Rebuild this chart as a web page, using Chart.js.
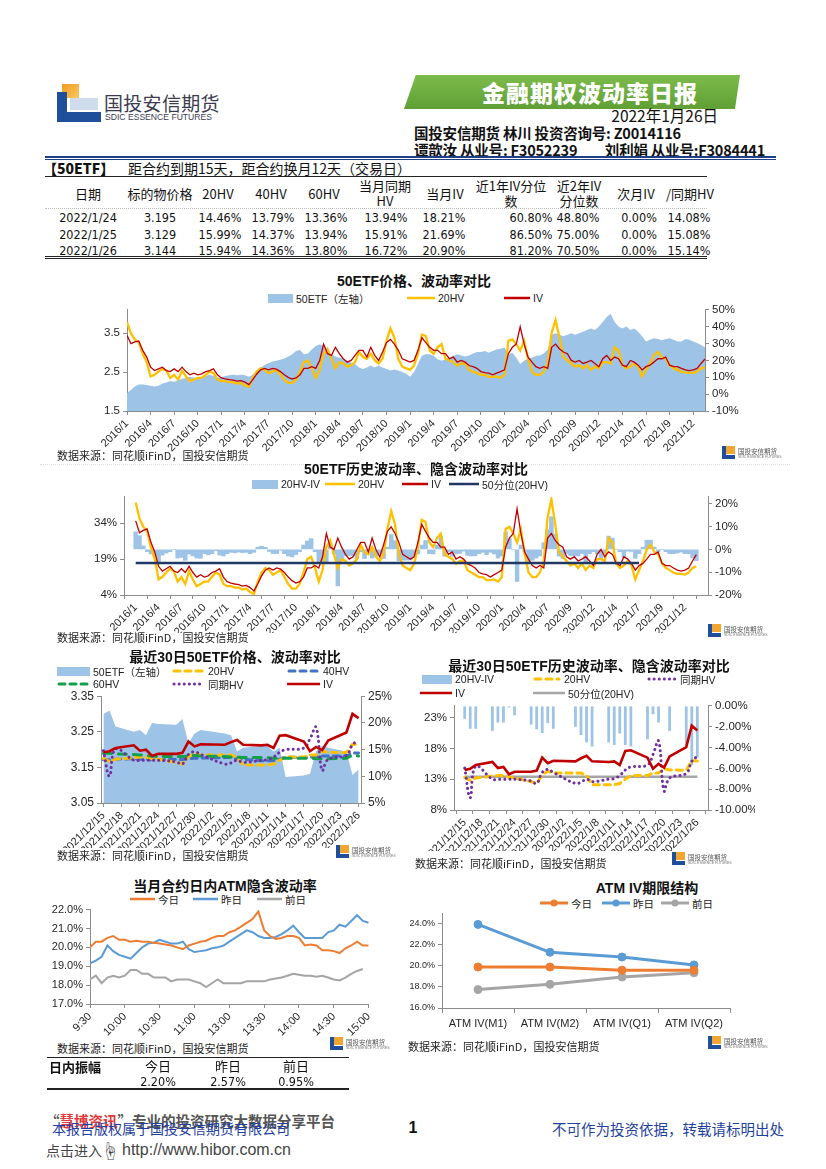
<!DOCTYPE html>
<html lang="zh-CN">
<head>
<meta charset="utf-8">
<title>金融期权波动率日报</title>
<script src="https://cdn.jsdelivr.net/npm/chart.js@4.4.1/dist/chart.umd.min.js"></script>
<style>
  html, body { margin: 0; padding: 0; background: #fff; }
  #page { position: relative; width: 826px; height: 1169px; overflow: hidden;
          font-family: "Liberation Sans", "Noto Sans CJK SC", sans-serif; color: #111; }
  #page > div { position: absolute; white-space: nowrap; }
  canvas { position: absolute; }
  .l { transform: translateY(-50%); }
  .c { transform: translate(-50%, -50%); }
  .r { transform: translate(-100%, -50%); }
  .ttl { transform: translate(-50%, -50%); font-weight: bold; font-size: 14px; }
  .src { transform: translateY(-50%); font-family: "Noto Sans CJK SC", sans-serif; font-size: 11px; color: #222; }
  .lg { transform: translateY(-50%); display: flex; align-items: center; font-size: 10.5px; color: #222; }
  .hd { font-family: "Noto Sans CJK SC", sans-serif; font-size: 13px; line-height: 15px; text-align: center; }
  .cell { font-family: "Liberation Sans Narrow", "DejaVu Sans Condensed", "Liberation Sans", sans-serif; font-size: 12.5px; }
  .hdr { font-family: "Noto Sans CJK SC", sans-serif; font-size: 14.5px; font-weight: bold; letter-spacing: -0.2px; }
</style>
</head>
<body>
<div id="page"></div>
<script>
// ---- 50ETF, samples every 10 trading days from 2016/1/4 to 2022/1/26 ----
const tickLabelsLong = ['2016/1','2016/4','2016/7','2016/10','2017/1','2017/4','2017/7','2017/10',
  '2018/1','2018/4','2018/7','2018/10','2019/1','2019/4','2019/7','2019/10','2020/1','2020/4',
  '2020/7','2020/9','2020/12','2021/4','2021/7','2021/9','2021/12'];
const pointsPerTick = 6;

const etfPrice = [
  1.96, 2.04, 2.13, 2.18, 2.18, 2.17, 2.15, 2.13, 2.15, 2.21, 2.23, 2.27,
  2.25, 2.29, 2.33, 2.35, 2.38, 2.36, 2.35, 2.38, 2.40, 2.43, 2.40, 2.35,
  2.37, 2.40, 2.42, 2.43, 2.42, 2.43, 2.42, 2.38, 2.43, 2.54, 2.62, 2.68,
  2.73, 2.77, 2.79, 2.82, 2.85, 2.90, 2.96, 3.04, 3.07, 2.96, 2.98, 3.08,
  3.17, 3.21, 3.17, 3.00, 2.96, 2.90, 2.87, 2.85, 2.79, 2.75, 2.71, 2.62,
  2.58, 2.62, 2.67, 2.62, 2.67, 2.62, 2.58, 2.54, 2.57, 2.54, 2.50, 2.46,
  2.38, 2.50, 2.71, 2.92, 2.96, 2.96, 2.92, 2.83, 2.79, 2.83, 2.87, 2.92,
  2.96, 2.93, 2.90, 2.93, 2.98, 3.02, 3.02, 3.04, 3.00, 3.04, 3.08, 3.10,
  3.13, 2.96, 3.00, 2.87, 2.71, 2.79, 2.85, 2.87, 2.92, 2.93, 2.98, 3.08,
  3.46, 3.50, 3.46, 3.42, 3.46, 3.50, 3.46, 3.50, 3.54, 3.58, 3.62, 3.58,
  3.67, 3.79, 3.92, 4.00, 3.79, 3.67, 3.62, 3.67, 3.58, 3.62, 3.54, 3.42,
  3.29, 3.33, 3.37, 3.35, 3.32, 3.35, 3.37, 3.33, 3.29, 3.29, 3.35, 3.33,
  3.29, 3.25, 3.20, 3.14
];
const hv20 = [
  42.7, 36, 32.5, 30.6, 24, 19, 10.5, 11.5, 13.4, 15, 14, 9.6,
  11.5, 8.6, 14, 10.5, 7.7, 8.6, 9.6, 9.6, 11.5, 13.4, 12.5, 8.6,
  7.7, 7.7, 7.1, 7.1, 6.3, 6.7, 5.2, 4.4, 9.6, 13.4, 15.3, 14.4,
  12.5, 13.4, 14.4, 11.5, 8.6, 6.7, 6.7, 8.6, 13.4, 19, 20, 15.3,
  9.6, 14.4, 24, 26.8, 21, 15.3, 19, 18.2, 16.3, 17.2, 19, 25,
  22, 21, 24, 20, 18.2, 21, 31.6, 39, 33.5, 21, 16.3, 15.3,
  14.4, 17, 24, 35.4, 34.5, 25.9, 24, 27.8, 29.7, 21, 20, 19,
  17, 18.2, 18.2, 14.4, 13.4, 12.5, 11.5, 11.5, 10.2, 10.2, 10.5, 9.6,
  11.5, 31.6, 32.5, 29.7, 25.9, 31.6, 21, 13.4, 11.5, 11.5, 13.4, 18.2,
  36.4, 44, 33.5, 22, 20, 18.2, 16.3, 17.2, 15.3, 17.2, 14.4, 16.3,
  15.3, 19, 19, 18.2, 27.8, 25.9, 17.2, 15.3, 16.3, 18.2, 16.3, 10.5,
  14.4, 18.2, 23, 25, 22, 21, 17.2, 15.3, 14.4, 13.4, 12.8, 12.8,
  12.5, 13.4, 15.3, 15.94
];
const iv = [
  35, 30, 31, 31.6, 26, 22, 16, 14, 15, 16, 14, 13.4,
  15, 13.4, 16, 13.4, 11.5, 12.5, 11.5, 12, 13.4, 14, 15, 11.5,
  9.6, 9, 8.6, 8.3, 7.7, 8, 7.1, 5.7, 8.6, 12, 14.4, 15.3,
  14.4, 15.3, 14.8, 13.4, 11.5, 10, 9, 9.6, 11.5, 15.3, 15.3, 16.3,
  15.3, 20, 29.7, 24, 23, 27.8, 24, 21, 19, 20, 23, 26,
  26, 22, 27.8, 23, 20, 25, 30.6, 32.5, 29.7, 26, 21, 20,
  19, 20, 26, 33.5, 30.6, 27.8, 26, 26, 24, 24, 21, 22,
  19, 20, 19, 17, 16.3, 15.3, 13.4, 12.8, 12.5, 11.5, 12.5, 13.4,
  14.4, 24, 27.8, 29.7, 40, 29.7, 22, 19, 16.3, 15.3, 16.3, 15.3,
  27.8, 29.7, 26.8, 25, 24, 20, 19, 20, 18.2, 19, 20, 18.2,
  16.3, 21, 23, 20, 22, 21, 17.2, 16.3, 20, 19, 17.2, 14.4,
  16.3, 17.2, 19, 21, 21, 22, 17.2, 16.3, 16.3, 15.3, 14.4, 14,
  14.4, 15.3, 18.21, 20.9
];
const hvIvSpread = [
  7.7, 6, 1.5, -1, -2, -3, -5.5, -2.5, -1.6, -1, 0, -3.8,
  -3.5, -4.8, -2, -2.9, -3.8, -3.9, -1.9, -2.4, -1.9, -0.6, -2.5, -2.9,
  -1.9, -1.3, -1.5, -1.2, -1.4, -1.3, -1.9, -1.3, 1, 1.4, 0.9, -0.9,
  -1.9, -1.9, -0.4, -1.9, -2.9, -3.3, -2.3, -1, 1.9, 3.7, 4.7, -1,
  -5.7, -5.6, -5.7, 2.8, -2, -16, -5, -2.8, -2.7, -2.8, -4, -1,
  -4, -1, -3.8, -3, -1.8, -4, 1, 6.5, 3.8, -5, -4.7, -4.7,
  -4.6, -3, -2, 1.9, 3.9, -1.9, -2, 1.8, 5.7, -3, -1, -3,
  -2, -1.8, -0.8, -2.6, -2.9, -2.8, -1.9, -1.3, -2.3, -1.3, -2, -3.8,
  -2.9, 7.6, 4.7, 0, -14.1, 1.9, -1, -5.6, -4.8, -3.8, -2.9, 2.9,
  8.6, 14.3, 6.7, -3, -4, -1.8, -2.7, -2.8, -2.9, -1.8, -5.6, -1.9,
  -1, -2, -4, -1.8, 5.8, 4.9, 0, -1, -3.7, -0.8, -0.9, -3.9,
  -1.9, 1, 4, 4, 1, -1, 0, -1, -1.9, -1.9, -1.6, -1.2,
  -1.9, -1.9, -3.75, -4.96
];
const hvMedian = 17.4;      // 50分位(20HV)
const hvMedianLast = 132;   // line stops here

// ---- last 30 trading days ----
const dates30 = ['2021/12/15','2021/12/16','2021/12/17','2021/12/20','2021/12/21','2021/12/22','2021/12/23',
  '2021/12/24','2021/12/27','2021/12/28','2021/12/29','2021/12/30','2021/12/31','2022/1/4','2022/1/5',
  '2022/1/6','2022/1/7','2022/1/10','2022/1/11','2022/1/12','2022/1/13','2022/1/14','2022/1/17',
  '2022/1/18','2022/1/19','2022/1/20','2022/1/21','2022/1/24','2022/1/25','2022/1/26'];
const tickDates30 = ['2021/12/15','2021/12/18','2021/12/21','2021/12/24','2021/12/27','2021/12/30',
  '2022/1/2','2022/1/5','2022/1/8','2022/1/11','2022/1/14','2022/1/17','2022/1/20','2022/1/23','2022/1/26'];
const etf30 = [3.300, 3.310, 3.265, 3.250, 3.255, 3.240, 3.275, 3.272, 3.270, 3.286, 3.218, 3.245, 3.255,
  3.245, 3.240, 3.195, 3.205, 3.210, 3.210, 3.195, 3.205, 3.123, 3.127, 3.132, 3.195, 3.210, 3.205,
  3.195, 3.129, 3.144];
const iv30 = [14.5, 14.7, 15.3, 15.8, 14.8, 15.0, 13.8, 14.2, 14.2, 14.4, 16.5, 15.6, 16.0, 15.9, 16.4,
  16.8, 15.9, 15.8, 15.9, 15.3, 17.6, 17.7, 16.5, 14.7, 15.5, 14.9, 16.7, 18.21, 21.69, 20.90];
const hv20_30 = [13.3, 12.8, 13.2, 13.5, 13.6, 13.6, 13.3, 13.2, 12.6, 12.3, 13.7, 14.3, 14.0, 14.0, 14.0,
  13.6, 12.1, 12.1, 12.1, 12.3, 13.0, 13.6, 13.6, 14.0, 14.0, 14.7, 14.5, 14.46, 15.99, 15.94];
const hv40_30 = [13.1, 13.1, 13.2, 13.3, 13.2, 13.2, 13.1, 13.1, 13.2, 13.1, 13.3, 13.4, 13.4, 13.5, 13.5,
  13.3, 13.2, 12.9, 12.9, 12.9, 13.2, 13.6, 13.5, 13.6, 13.6, 13.8, 13.8, 13.79, 14.37, 14.36];
const hv60_30 = [14.3, 14.3, 14.2, 14.1, 14.0, 13.9, 13.8, 13.7, 13.7, 13.7, 13.8, 13.9, 13.8, 13.7, 13.6,
  13.6, 13.5, 13.5, 13.5, 13.4, 13.4, 13.4, 13.4, 13.4, 13.3, 13.3, 13.3, 13.36, 13.94, 13.80];
const sameHv30 = [14.8, 10.0, 15.1, 13.0, 13.0, 13.0, 13.0, 13.0, 12.7, 12.3, 14.1, 14.6, 14.1, 12.3, 12.5,
  13.0, 12.6, 13.0, 13.1, 13.6, 14.5, 15.0, 15.3, 17.0, 19.2, 11.1, 13.2, 13.94, 15.91, 16.72];
const spread30 = [-1.25, -2.2, -2.2, -2.4, -1.6, -1.6, -0.15, -0.9, -1.8, -2.25, -2.6, -1.65, -2.2, -2.0, -2.8,
  -3.5, -3.9, -3.5, -3.75, -2.65, -3.75, -3.9, -3.2, -0.8, -1.6, -0.05, -2.4, -3.75, -5.7, -4.96];
const median30 = 13.4;

// ---- intraday ATM IV, every 5 minutes ----
const intradayTicks = ['9:30','10:00','10:30','11:00','13:00','13:30','14:00','14:30','15:00'];
const atmToday = [20.0, 20.3, 20.3, 20.5, 20.6, 20.4, 20.4, 20.3, 20.35, 20.3, 20.3, 20.25, 20.2, 20.15, 20.1,
  20.0, 19.9, 20.1, 20.2, 20.3, 20.35, 20.5, 20.6, 20.6, 20.8, 20.9, 21.1, 21.3, 21.5, 21.9, 20.9, 20.6,
  20.45, 20.5, 20.6, 20.6, 20.5, 20.1, 20.15, 20.1, 19.85, 19.85, 19.8, 19.7, 19.95, 20.1, 20.3, 20.1, 20.1];
const atmYesterday = [19.15, 19.3, 19.5, 20.1, 19.8, 19.6, 19.5, 19.4, 19.7, 20.0, 20.2, 20.25, 20.4, 20.3, 20.2,
  20.2, 20.3, 19.9, 19.75, 19.8, 19.85, 19.95, 20.0, 20.1, 20.3, 20.5, 20.7, 20.9, 20.8, 20.6, 20.5, 20.5,
  20.55, 20.7, 20.9, 21.15, 20.8, 20.5, 20.5, 20.5, 20.5, 20.8, 20.9, 21.2, 21.1, 21.4, 21.7, 21.4, 21.3];
const atmPrev = [18.3, 18.5, 18.1, 18.4, 18.5, 18.4, 18.5, 18.8, 18.8, 18.6, 18.6, 18.4, 18.4, 18.4, 18.2,
  18.3, 18.3, 18.3, 18.2, 18.1, 17.9, 18.1, 18.3, 18.1, 18.1, 18.1, 18.1, 18.2, 18.2, 18.2, 18.2, 18.3,
  18.35, 18.4, 18.5, 18.6, 18.55, 18.5, 18.5, 18.45, 18.5, 18.4, 18.3, 18.25, 18.4, 18.6, 18.75, 18.85, null];

// ---- ATM IV term structure ----
const termLabels = ['ATM IV(M1)', 'ATM IV(M2)', 'ATM IV(Q1)', 'ATM IV(Q2)'];
const termToday = [19.9, 19.9, 19.6, 19.6];
const termYesterday = [23.95, 21.3, 20.85, 20.1];
const termPrev = [17.75, 18.25, 18.95, 19.35];

// ---- tables ----
const tableHead = [['日期'], ['标的物价格'], ['20HV'], ['40HV'], ['60HV'], ['当月同期', 'HV'], ['当月IV'],
  ['近1年IV分位', '数'], ['近2年IV', '分位数'], ['次月IV'], ['/同期HV']];
const tableRows = [
  ['2022/1/24', '3.195', '14.46%', '13.79%', '13.36%', '13.94%', '18.21%', '60.80%', '48.80%', '0.00%', '14.08%'],
  ['2022/1/25', '3.129', '15.99%', '14.37%', '13.94%', '15.91%', '21.69%', '86.50%', '75.00%', '0.00%', '15.08%'],
  ['2022/1/26', '3.144', '15.94%', '14.36%', '13.80%', '16.72%', '20.90%', '81.20%', '70.50%', '0.00%', '15.14%']
];
const swingHead = ['今日', '昨日', '前日'];
const swingValues = ['2.20%', '2.57%', '0.95%'];

// ================= page helpers =================
const page = document.getElementById('page');
function put(html, x, y, cls, css) {
  const d = document.createElement('div');
  d.className = cls || 'l';
  d.style.left = x + 'px';
  d.style.top = y + 'px';
  if (css) d.style.cssText += css;
  d.innerHTML = html;
  page.appendChild(d);
  return d;
}
function rect(x, y, w, h, css) {
  const d = document.createElement('div');
  d.style.cssText = `left:${x}px;top:${y}px;width:${w}px;height:${h}px;` + (css || '');
  page.appendChild(d);
  return d;
}
function canvasAt(x, y, w, h) {
  const c = document.createElement('canvas');
  c.width = w; c.height = h;
  c.style.left = x + 'px'; c.style.top = y + 'px';
  c.style.width = w + 'px'; c.style.height = h + 'px';
  page.appendChild(c);
  return c;
}
function legendItem(x, y, kind, color, label, sw) {
  const w = sw || 28;
  let g;
  if (kind === 'area') g = `<rect x="0" y="4" width="${w}" height="9" fill="${color}"/>`;
  else if (kind === 'line') g = `<line x1="0" y1="8" x2="${w}" y2="8" stroke="${color}" stroke-width="2.5"/>`;
  else if (kind === 'dash') g = `<line x1="2" y1="8" x2="${w - 2}" y2="8" stroke="${color}" stroke-width="3" stroke-dasharray="6 5" stroke-linecap="round"/>`;
  else if (kind === 'dot') g = `<line x1="2" y1="8" x2="${w - 2}" y2="8" stroke="${color}" stroke-width="3" stroke-dasharray="0.1 5" stroke-linecap="round"/>`;
  else g = `<line x1="0" y1="8" x2="${w}" y2="8" stroke="${color}" stroke-width="3"/><circle cx="${w / 2}" cy="8" r="3.5" fill="${color}"/>`;
  put(`<svg width="${w}" height="16">${g}</svg><span style="margin-left:3px">${label}</span>`, x, y, 'lg');
}
function smallLogo(x, y) {
  rect(x, y, 4, 13, 'background:#1f4e9b');
  rect(x, y + 9, 13, 4, 'background:#1f4e9b');
  rect(x + 4, y, 9, 8, 'background:#f2a531');
  put('国投安信期货', x + 16, y + 5, 'l', 'font-family:"Noto Sans CJK SC";font-size:6.5px;color:#555');
  put('SDIC ESSENCE FUTURES', x + 16, y + 11, 'l', 'font-size:3.5px;color:#777');
}
const SRC = '数据来源：同花顺iFinD，国投安信期货';

// ================= header =================
rect(62, 84, 17, 14, 'background:linear-gradient(135deg,#f39a1e,#f7c864)');
rect(57, 92, 10, 30, 'background:#1f4e9b');
rect(57, 112, 44, 10, 'background:#1f4e9b');
rect(70, 98, 28, 12, 'background:#cfdcee');
put('国投安信期货', 104, 102, 'l', 'font-family:"Noto Sans CJK SC";font-size:19px;color:#3b3b4f;letter-spacing:0.3px');
put('SDIC ESSENCE FUTURES', 105, 117, 'l', 'font-size:8.6px;color:#3b3b4f');

rect(404, 75, 336, 34, 'background:linear-gradient(180deg,#7dbb4b,#5f9f35);clip-path:polygon(3.5% 0,100% 0,98.5% 100%,0 100%)');
put('金融期权波动率日报', 590, 92, 'c', 'font-family:"Noto Sans CJK SC";font-weight:900;font-size:23px;color:#fff;letter-spacing:1px');
put('2022年1月26日', 718, 115, 'r', 'font-family:"Noto Sans CJK SC";font-size:15.5px');
put('国投安信期货 林川 投资咨询号: Z0014116', 414, 132, 'l hdr');
put('谭歆汝 从业号: F3052239', 414, 149, 'l hdr');
put('刘利娟 从业号:F3084441', 765, 149, 'r hdr');
rect(45, 156, 731, 2, 'background:#203f8a');
rect(45, 159, 731, 1, 'background:#203f8a');

put('【50ETF】', 43, 168, 'l', 'font-family:"Noto Sans CJK SC";font-size:14px;font-weight:900');
put('距合约到期15天，距合约换月12天（交易日）', 128, 168, 'l', 'font-family:"Noto Sans CJK SC";font-size:14px');
rect(45, 176, 662, 1, 'background:#222');

// table
const headX = [88, 160, 218, 271, 324, 385, 445, 511, 579, 636, 690];
const cellX = [88, 160, 220, 273, 326, 386, 444, 531, 578, 639, 689];
tableHead.forEach((h, k) => {
  put(h.join('<br>'), headX[k], 193, 'c hd');
});
rect(45, 208, 662, 0, 'border-top:1px dotted #bbb');
tableRows.forEach((row, r) => {
  row.forEach((v, k) => put(v, cellX[k], 217 + r * 16.5, 'c cell'));
});
rect(45, 256, 662, 1, 'background:#222');
rect(45, 258, 662, 1, 'background:#222');

// ================= shared axis builders =================
const AXIS = '#8c8c8c', TXT = '#262626', AREA = '#9dc3e6';
Chart.defaults.font.family = '"Liberation Sans", "Noto Sans CJK SC", sans-serif';
function yAxis(position, min, max, tickValues, fmt, width, size) {
  return {
    type: 'linear', position, min, max,
    afterBuildTicks: ax => { ax.ticks = tickValues.map(v => ({ value: v })); },
    afterFit: ax => { ax.width = width; },
    grid: { drawOnChartArea: false, tickLength: 4, color: AXIS },
    border: { color: AXIS },
    ticks: { callback: fmt, color: TXT, font: { size }, padding: 3 }
  };
}
function xAxis(min, max, tickValues, fmt, height, size, rot) {
  return {
    type: 'linear', position: 'bottom', min, max,
    afterBuildTicks: ax => { ax.ticks = tickValues.map(v => ({ value: v })); },
    afterFit: ax => { ax.height = height; },
    grid: { drawOnChartArea: false, tickLength: 4, color: AXIS },
    border: { color: AXIS },
    ticks: { autoSkip: false, minRotation: rot, maxRotation: rot, callback: fmt, color: TXT, font: { size }, padding: 2 }
  };
}
function baseOptions(top, scales) {
  return {
    responsive: false, animation: false,
    layout: { padding: { top, left: 0, right: 0, bottom: 0 } },
    plugins: { legend: { display: false }, tooltip: { enabled: false } },
    scales
  };
}
const pts = arr => arr.map((v, i) => ({ x: i, y: v }));
const longTicks = tickLabelsLong.map((_, k) => k * pointsPerTick);
const longFmt = v => tickLabelsLong[Math.round(v / pointsPerTick)];
const pctFmt = v => v + '%';

// ================= chart 1 =================
put('50ETF价格、波动率对比', 414, 280, 'ttl');
legendItem(268, 298, 'area', AREA, '50ETF（左轴）', 25);
legendItem(407, 298, 'line', '#ffc000', '20HV', 28);
legendItem(504, 298, 'line', '#c00000', 'IV', 26);
new Chart(canvasAt(60, 300, 700, 155), {
  type: 'line',
  data: { datasets: [
    { label: '50ETF（左轴）', data: pts(etfPrice), yAxisID: 'yL', fill: 'start', backgroundColor: AREA,
      borderWidth: 0, pointRadius: 0, order: 3 },
    { label: '20HV', data: pts(hv20), yAxisID: 'yR', borderColor: '#ffc000', borderWidth: 2.3, pointRadius: 0, order: 2 },
    { label: 'IV', data: pts(iv), yAxisID: 'yR', borderColor: '#c00000', borderWidth: 1.3, pointRadius: 0, order: 1 }
  ] },
  options: baseOptions(7, {
    x: xAxis(0, etfPrice.length - 1, longTicks, longFmt, 44, 11, 45),
    yL: yAxis('left', 1.5, 4.1, [1.5, 2.5, 3.5], v => v.toFixed(1), 67, 11.5),
    yR: yAxis('right', -10, 50, [-10, 0, 10, 20, 30, 40, 50], pctFmt, 55, 11.5)
  })
});
put(SRC, 57, 455, 'src');
smallLogo(722, 446);
rect(40, 464, 750, 0, 'border-top:1px dotted #ddd');

// ================= chart 2 =================
put('50ETF历史波动率、隐含波动率对比', 416, 468, 'ttl');
legendItem(252, 484, 'area', AREA, '20HV-IV', 26);
legendItem(325, 484, 'line', '#ffc000', '20HV', 30);
legendItem(402, 484, 'line', '#c00000', 'IV', 26);
legendItem(449, 484, 'line', '#1f3864', '50分位(20HV)', 30);
new Chart(canvasAt(60, 487, 700, 146), {
  type: 'line',
  data: { datasets: [
    { type: 'bar', label: '20HV-IV', data: pts(hvIvSpread), yAxisID: 'yR', backgroundColor: AREA,
      barPercentage: 1, categoryPercentage: 1, order: 5 },
    { label: '20HV', data: pts(hv20), yAxisID: 'yL', borderColor: '#ffc000', borderWidth: 2.3, pointRadius: 0, order: 3 },
    { label: 'IV', data: pts(iv), yAxisID: 'yL', borderColor: '#c00000', borderWidth: 1.3, pointRadius: 0, order: 2 },
    { label: '50分位(20HV)', data: etfPrice.map((_, i) => ({ x: i, y: i <= hvMedianLast ? hvMedian : null })),
      yAxisID: 'yL', borderColor: '#1f3864', borderWidth: 2.5, pointRadius: 0, order: 1 }
  ] },
  options: baseOptions(8, {
    x: xAxis(0, etfPrice.length - 1, longTicks, longFmt, 38, 11, 45),
    yL: yAxis('left', 4, 45, [4, 19, 34], pctFmt, 64, 11.5),
    yR: yAxis('right', -20, 23, [-20, -10, 0, 10, 20], pctFmt, 52, 11.5)
  })
});
put(SRC, 57, 637, 'src');
smallLogo(708, 624);

// ================= 30-day helpers =================
function dayOf(s) {
  const [y, m, d] = s.split('/').map(Number);
  const [y0, m0, d0] = dates30[0].split('/').map(Number);
  return Math.round((Date.UTC(y, m - 1, d) - Date.UTC(y0, m0 - 1, d0)) / 864e5);
}
const days30 = dates30.map(dayOf);
const tickDays30 = tickDates30.map(dayOf);
const dayFmt = v => tickDates30[tickDays30.indexOf(v)];
const pts30 = arr => arr.map((v, i) => ({ x: days30[i], y: v }));
const x30 = h => xAxis(-0.4, days30[days30.length - 1] + 0.4, tickDays30, dayFmt, h, 11, 45);

// ================= chart 3 =================
put('最近30日50ETF价格、波动率对比', 235, 656, 'ttl');
legendItem(57, 671, 'area', AREA, '50ETF（左轴）', 33);
legendItem(172, 671, 'dash', '#ffc000', '20HV', 33);
legendItem(287, 671, 'dash', '#4472c4', '40HV', 33);
legendItem(57, 684, 'dash', '#14a04a', '60HV', 33);
legendItem(172, 684, 'dot', '#7030a0', '同期HV', 33);
legendItem(287, 684, 'line', '#c00000', 'IV', 33);
new Chart(canvasAt(45, 686, 355, 162), {
  type: 'line',
  data: { datasets: [
    { label: '50ETF（左轴）', data: pts30(etf30), yAxisID: 'yL', fill: 'start', backgroundColor: AREA,
      borderWidth: 0, pointRadius: 0, order: 6 },
    { label: '20HV', data: pts30(hv20_30), yAxisID: 'yR', borderColor: '#ffc000', borderWidth: 3,
      borderDash: [6, 5], borderCapStyle: 'round', pointRadius: 0, order: 4 },
    { label: '40HV', data: pts30(hv40_30), yAxisID: 'yR', borderColor: '#4472c4', borderWidth: 3,
      borderDash: [6, 5], borderCapStyle: 'round', pointRadius: 0, order: 5 },
    { label: '60HV', data: pts30(hv60_30), yAxisID: 'yR', borderColor: '#14a04a', borderWidth: 3,
      borderDash: [8, 7], borderCapStyle: 'round', pointRadius: 0, order: 3 },
    { label: '同期HV', data: pts30(sameHv30), yAxisID: 'yR', borderColor: '#7030a0', borderWidth: 3,
      borderDash: [0.1, 5], borderCapStyle: 'round', tension: 0.4, pointRadius: 0, order: 2 },
    { label: 'IV', data: pts30(iv30), yAxisID: 'yR', borderColor: '#c00000', borderWidth: 2.6, pointRadius: 0, order: 1 }
  ] },
  options: baseOptions(7, {
    x: x30(45),
    yL: yAxis('left', 3.05, 3.35, [3.05, 3.15, 3.25, 3.35], v => v.toFixed(2), 56, 12),
    yR: yAxis('right', 5, 25, [5, 10, 15, 20, 25], pctFmt, 39, 12)
  })
});
put(SRC, 57, 855, 'src');
smallLogo(336, 845);

// ================= chart 4 =================
put('最近30日50ETF历史波动率、隐含波动率对比', 589, 665, 'ttl');
legendItem(422, 679, 'area', AREA, '20HV-IV', 30);
legendItem(533, 679, 'dash', '#ffc000', '20HV', 28);
legendItem(647, 679, 'dot', '#7030a0', '同期HV', 30);
legendItem(420, 693, 'line', '#c00000', 'IV', 32);
legendItem(533, 693, 'line', '#a6a6a6', '50分位(20HV)', 32);
new Chart(canvasAt(405, 696, 350, 155), {
  type: 'line',
  data: { datasets: [
    { type: 'bar', label: '20HV-IV', data: pts30(spread30), yAxisID: 'yR', backgroundColor: AREA,
      barPercentage: 0.5, categoryPercentage: 1, order: 5 },
    { label: '50分位(20HV)', data: pts30(dates30.map(() => median30)), yAxisID: 'yL', borderColor: '#a6a6a6',
      borderWidth: 2.5, pointRadius: 0, order: 4 },
    { label: '20HV', data: pts30(hv20_30), yAxisID: 'yL', borderColor: '#ffc000', borderWidth: 3,
      borderDash: [6, 5], borderCapStyle: 'round', pointRadius: 0, order: 3 },
    { label: '同期HV', data: pts30(sameHv30), yAxisID: 'yL', borderColor: '#7030a0', borderWidth: 3,
      borderDash: [0.1, 5], borderCapStyle: 'round', tension: 0.4, pointRadius: 0, order: 2 },
    { label: 'IV', data: pts30(iv30), yAxisID: 'yL', borderColor: '#c00000', borderWidth: 2.6, pointRadius: 0, order: 1 }
  ] },
  options: baseOptions(7, {
    x: x30(41),
    yL: yAxis('left', 8, 24.9, [8, 13, 18, 23], pctFmt, 49, 11.5),
    yR: yAxis('right', -10, 0, [-10, -8, -6, -4, -2, 0], v => v.toFixed(2) + '%', 47, 11.5)
  })
});
put(SRC, 415, 863, 'src');
smallLogo(672, 852);

// ================= chart 5 =================
put('当月合约日内ATM隐含波动率', 225, 885, 'ttl');
legendItem(130, 899, 'line', '#ed7d31', '今日', 25);
legendItem(193, 899, 'line', '#5b9bd5', '昨日', 25);
legendItem(257, 899, 'line', '#a5a5a5', '前日', 25);
const intraTicks = intradayTicks.map((_, k) => k * pointsPerTick);
new Chart(canvasAt(40, 900, 340, 140), {
  type: 'line',
  data: { datasets: [
    { label: '今日', data: pts(atmToday), borderColor: '#ed7d31', borderWidth: 2, pointRadius: 0, order: 1 },
    { label: '昨日', data: pts(atmYesterday), borderColor: '#5b9bd5', borderWidth: 2, pointRadius: 0, order: 2 },
    { label: '前日', data: pts(atmPrev), borderColor: '#a5a5a5', borderWidth: 2, pointRadius: 0, order: 3 }
  ] },
  options: baseOptions(9, {
    x: xAxis(0, atmToday.length - 1, intraTicks, v => intradayTicks[Math.round(v / pointsPerTick)], 36, 11, 45),
    y: yAxis('left', 17, 22, [17, 18, 19, 20, 21, 22], v => v.toFixed(1) + '%', 50, 11)
  })
});
put(SRC, 57, 1048, 'src');
smallLogo(330, 1037);

// swing table
rect(47, 1057, 302, 1, 'background:#222');
put('日内振幅', 49, 1066, 'l', 'font-family:"Noto Sans CJK SC";font-size:13px;font-weight:bold');
const swingX = [158, 228, 296];
swingHead.forEach((h, k) => put(h, swingX[k], 1065, 'c', 'font-family:"Noto Sans CJK SC";font-size:13px'));
swingValues.forEach((v, k) => put(v, swingX[k], 1081, 'c cell'));
rect(47, 1088, 302, 2, 'background:#222');

// ================= chart 6 =================
put('ATM IV期限结构', 647, 887, 'ttl');
legendItem(540, 903, 'marker', '#ed7d31', '今日', 28);
legendItem(602, 903, 'marker', '#5b9bd5', '昨日', 28);
legendItem(661, 903, 'marker', '#a5a5a5', '前日', 28);
const markerLine = (label, data, color, order) => ({
  label, data, borderColor: color, backgroundColor: color, borderWidth: 3,
  pointRadius: 4, pointBorderWidth: 1, pointBackgroundColor: color, order
});
new Chart(canvasAt(400, 905, 335, 130), {
  type: 'line',
  data: { labels: termLabels, datasets: [
    markerLine('今日', termToday, '#ed7d31', 1),
    markerLine('昨日', termYesterday, '#5b9bd5', 2),
    markerLine('前日', termPrev, '#a5a5a5', 3)
  ] },
  options: baseOptions(8, {
    x: { type: 'category', offset: true,
         afterFit: ax => { ax.height = 27; },
         grid: { offset: true, drawOnChartArea: false, tickLength: 5, color: AXIS },
         border: { color: AXIS },
         ticks: { color: TXT, font: { size: 11 }, maxRotation: 0, padding: 4 } },
    y: yAxis('left', 16, 25, [16, 18, 20, 22, 24], v => v.toFixed(1) + '%', 42, 9)
  })
});
put(SRC, 408, 1046, 'src');
smallLogo(708, 1036);

// ================= footer =================
put('“<span style="color:#e03a3a">慧博资讯</span>”专业的投资研究大数据分享平台', 45, 1120, 'l',
  'font-family:"Noto Sans CJK SC";font-size:14.5px;font-weight:bold;color:#555');
put('本报告版权属于国投安信期货有限公司', 52, 1128, 'l',
  'font-family:"Noto Sans CJK SC";font-size:14px;color:#1f3fa0');
put('1', 413, 1128, 'c', 'font-size:16px;font-weight:bold');
put('不可作为投资依据，转载请标明出处', 784, 1128, 'r',
  'font-family:"Noto Sans CJK SC";font-size:14.5px;color:#1f3fa0');
put('点击进入', 46, 1150, 'l', 'font-family:"Noto Sans CJK SC";font-size:14px;color:#444');
put('☝', 101, 1150, 'l', 'font-size:18px;color:#444');
put('http://www.hibor.com.cn', 122, 1150, 'l', 'font-size:16px;color:#444');
</script>
</body>
</html>
